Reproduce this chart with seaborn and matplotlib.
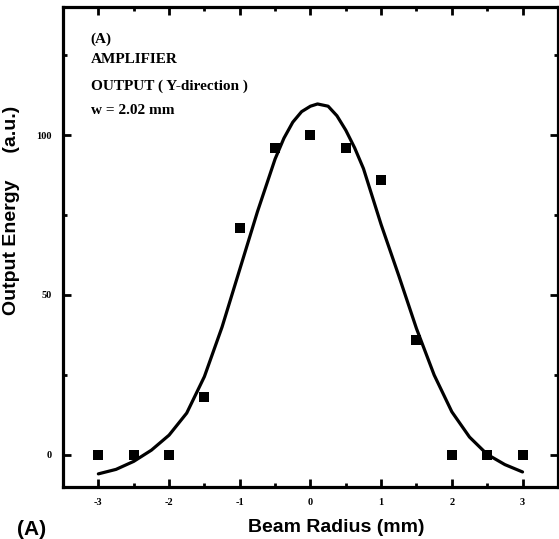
import matplotlib
matplotlib.use("Agg")
import matplotlib.pyplot as plt
import seaborn as sns
import pandas as pd

# measured points (squares)
radius = [-3, -2.5, -2, -1.5, -1, -0.5, 0, 0.5, 1, 1.5, 2, 2.5, 3]
energy = [0, 0, 0, 18, 71, 96, 100, 96, 86, 36, 0, 0, 0]

# gaussian fit curve
fit_r = [-3.0, -2.75, -2.5, -2.25, -2.0, -1.75, -1.5, -1.25, -1.0, -0.75,
         -0.5, -0.375, -0.25, -0.125, 0.0, 0.1, 0.25, 0.375, 0.5, 0.625,
         0.75, 1.0, 1.25, 1.5, 1.75, 2.0, 2.25, 2.5, 2.75, 3.0]
fit_e = [-5.9, -4.5, -2.0, 1.5, 6.2, 13.1, 24.5, 40.0, 58.0, 76.0,
         92.5, 99.0, 104.0, 107.3, 109.0, 109.7, 109.0, 106.0, 101.5, 96.0,
         89.5, 72.0, 56.0, 39.5, 25.0, 13.5, 5.6, 0.2, -3.0, -5.3]

x_ticks = [-3, -2, -1, 0, 1, 2, 3]
y_ticks = [0, 50, 100]

notes = ["(A)", "AMPLIFIER", "OUTPUT ( Y-direction )", "w = 2.02 mm"]

sns.set_theme(style="ticks")
plt.rcParams["font.family"] = ["Liberation Sans", "DejaVu Sans"]
for key in ["text.color", "axes.labelcolor", "xtick.color", "ytick.color", "axes.edgecolor"]:
    plt.rcParams[key] = "black"

points = pd.DataFrame({"r": radius, "e": energy})
curve = pd.DataFrame({"r": fit_r, "e": fit_e})

fig = plt.figure(figsize=(5.59, 5.39), dpi=100)
ax = fig.add_axes([0.1127, 0.0965, 0.8853, 0.8905])

sns.lineplot(data=curve, x="r", y="e", ax=ax, color="black", linewidth=2.3,
             sort=False)
sns.scatterplot(data=points, x="r", y="e", ax=ax, marker="s", s=42,
                color="black", edgecolor="black", linewidth=0, zorder=3)

ax.set_xlim(-3.5, 3.5)
ax.set_ylim(-10, 140)
ax.set_xticks(x_ticks)
ax.set_yticks(y_ticks)
ax.set_xticks([v + 0.5 for v in x_ticks[:-1]], minor=True)
ax.set_yticks([25, 75, 125], minor=True)

tick_font = {"family": ["Liberation Serif", "DejaVu Serif"], "weight": "heavy", "size": 7.5}
ax.set_xticklabels([str(v) for v in x_ticks], fontdict=tick_font)
ax.set_yticklabels([str(v) for v in y_ticks], fontdict=tick_font)

ax.tick_params(which="both", direction="in", top=True, right=True,
               width=2, color="black")
ax.tick_params(which="major", length=6, pad=8)
ax.tick_params(which="minor", length=3)

for sp in ax.spines.values():
    sp.set_linewidth(2.3)
    sp.set_color("black")

ax.set_xlabel("Beam Radius (mm)", fontsize=14, fontweight="bold")
ax.set_ylabel("Output Energy     (a.u.)", fontsize=14, fontweight="bold")
ax.yaxis.set_label_coords(-0.087, 0.577)
ax.xaxis.set_label_coords(0.552, -0.066)

note_y = [0.933, 0.890, 0.835, 0.785]
for txt, yy in zip(notes, note_y):
    ax.text(0.056, yy, txt, transform=ax.transAxes, va="center", ha="left",
            fontsize=11, fontweight="heavy",
            family=["Liberation Serif", "DejaVu Serif"])

fig.text(0.030, 0.017, "(A)", fontsize=15, fontweight="bold", va="center", ha="left")

fig.savefig("out.png", dpi=100)
plt.close(fig)
